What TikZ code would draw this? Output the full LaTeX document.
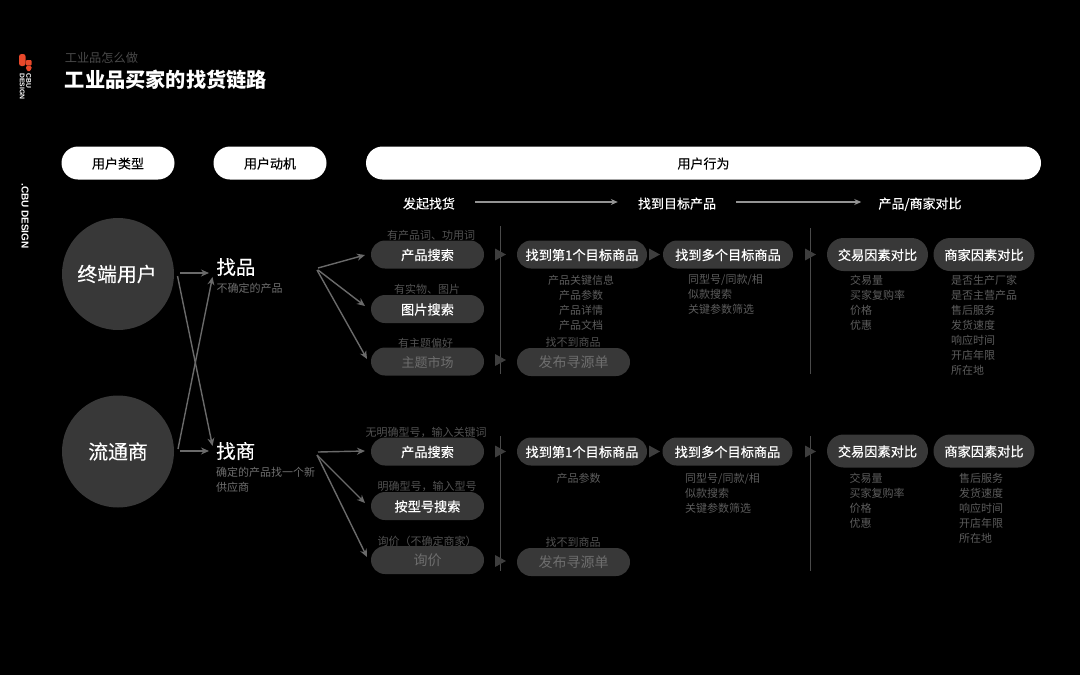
\documentclass[tikz,border=0pt]{standalone}
\usepackage{fontspec}
\setmainfont{Noto Sans CJK SC}
\newfontfamily\medf[FakeBold=0.25]{Noto Sans CJK SC}
\newfontfamily\semf[FakeBold=0.5]{Noto Sans CJK SC}
\newfontfamily\lat{Liberation Sans}
\usetikzlibrary{arrows.meta,calc}
\definecolor{pill}{HTML}{383838}
\definecolor{subt}{HTML}{5C5C5C}
\definecolor{hint}{HTML}{525252}
\definecolor{linec}{HTML}{6A6A6A}
\definecolor{tri}{HTML}{3E3E3E}
\definecolor{dim}{HTML}{6E6E6E}
\definecolor{redl}{HTML}{E8482A}
\tikzset{
 head/.style={fill=white,rounded corners=16.5pt,text=black,font=\medf\fontsize{13}{13}\selectfont,inner sep=0,minimum height=33pt,text height=11pt,text depth=0pt},
 pillb/.style={fill=pill,rounded corners=14pt,text=white,font=\semf\fontsize{13.2}{13}\selectfont,inner sep=0,minimum height=28pt,text height=11pt,text depth=0pt},
 pilld/.style={pillb,text=dim,font=\fontsize{14}{14}\selectfont},
 cmp/.style={fill=pill,rounded corners=16.5pt,text=white,font=\semf\fontsize{13.2}{13}\selectfont,inner sep=0,minimum height=33pt,minimum width=101pt,text height=11pt,text depth=0pt},
 big/.style={circle,fill=pill,text=white,minimum size=112pt,inner sep=0,font=\medf\fontsize{19.8}{20}\selectfont},
 mot/.style={text=white,inner sep=0,anchor=west,font=\medf\fontsize{19.5}{19.5}\selectfont},
 note/.style={text=dim,inner sep=0,anchor=west,font=\fontsize{11}{15}\selectfont,align=left},
 hintl/.style={text=hint,inner sep=0,font=\fontsize{11}{11}\selectfont},
 det/.style={text=subt,inner sep=0,anchor=north west,font=\fontsize{11}{15}\selectfont,align=left},
 detc/.style={det,anchor=north,align=center},
 nofind/.style={text=dim!120!white,inner sep=0,font=\fontsize{11}{11}\selectfont},
 stagel/.style={text=white,inner sep=0,font=\medf\fontsize{13}{13}\selectfont,text height=11pt,text depth=0pt},
 conn/.style={draw=linec,line width=1.4pt,-{Stealth[length=8pt,width=7pt]}},
 stagearr/.style={draw=gray!85!white,line width=1.4pt,-{Stealth[length=7pt,width=6pt]}},
 vrule/.style={draw=linec!70!black,line width=0.9pt},
}
\newcommand{\mytri}[2]{\fill[tri] (#1,#2-6) -- (#1+11,#2) -- (#1,#2+6) -- cycle;}
\begin{document}
\begin{tikzpicture}[x=1pt,y=-1pt]
\useasboundingbox (0,0) rectangle (1080,675);
\fill[black] (0,0) rectangle (1080,675);
% logo
\fill[redl,rounded corners=2.5pt] (19,54) rectangle (25.6,66);
\fill[redl,rounded corners=1pt] (25.9,60) rectangle (31.6,65.6);
\fill[redl,rounded corners=1pt] (26,66) -- (31.5,66) -- (31.5,69) -- (28.8,71.8) -- (26,69) -- cycle;
\node[text=white,rotate=-90,inner sep=0,align=left,font=\lat\bfseries\fontsize{6.8}{6.6}\selectfont] (logotxt) at (25.5,86.5) {CBU\\DESIGN};
\node[text=white,rotate=-90,inner sep=0,font=\lat\bfseries\fontsize{10}{10}\selectfont] (brand) at (25,216) {.CBU DESIGN};
% titles
\node[text=dim!125!white,anchor=west,inner sep=0,font=\fontsize{12.2}{12}\selectfont] (sub) at (64.6,58) {工业品怎么做};
\node[text=white,anchor=west,inner sep=0,font=\fontsize{20.2}{20}\selectfont\bfseries] (title) at (64.6,80) {工业品买家的找货链路};
% headers
\node[head,minimum width=113pt] (h1) at (118,163) {用户类型};
\node[head,minimum width=113pt] (h2) at (270,163) {用户动机};
\node[head,minimum width=675pt] (h3) at (703.5,163) {用户行为};
% stages
\node[stagel] (s1) at (429,203) {发起找货};
\node[stagel] (s2) at (677,203) {找到目标产品};
\node[stagel] (s3) at (920,203) {产品/商家对比};
\draw[stagearr] ($(s1.east)+(20,-1)$) -- ($(s2.west)+(-20,-1)$);
\draw[stagearr] ($(s2.east)+(20,-1)$) -- ($(s3.west)+(-17,-1)$);
% user types
\node[big] (u1) at (118,274) {\hspace*{-2pt}终端用户};
\node[big] (u2) at (118,451.5) {流通商};
% motives
\node[mot] (m1) at (216.2,267) {找品};
\node[note] (m1n) at (216.5,288) {不确定的产品};
\node[mot] (m2) at (216,451) {找商};
\node[note,anchor=north west] (m2n) at (216,467) {确定的产品找一个新\\供应商};
% connectors user -> motive
\coordinate (a1) at (180,273); \coordinate (a1e) at (209,273);
\coordinate (a2) at (180,451); \coordinate (a2e) at (209,451);
\coordinate (x1) at (177.5,276); \coordinate (x1e) at (212.5,446);
\coordinate (x2) at (178,449); \coordinate (x2e) at (212.5,277);
\draw[conn] (a1) -- (a1e);
\draw[conn] (a2) -- (a2e);
\draw[conn] (x1) -- (x1e);
\draw[conn] (x2) -- (x2e);
% hints (under pills)
\node[hintl] (t1) at (431,235) {有产品词、功用词};
\node[hintl] (t2) at (427,289) {有实物、图片};
\node[hintl] (t3) at (425.5,343) {有主题偏好};
\node[hintl] (t4) at (426,432) {无明确型号，输入关键词};
\node[hintl] (t5) at (427,486) {明确型号，输入型号};
\node[hintl] (t6) at (427,541) {询价（不确定商家）};
\node[nofind] (nf1) at (573,342) {找不到商品};
\node[nofind] (nf2) at (573,542) {找不到商品};
% search pills
\node[pillb,minimum width=113pt] (p1) at (427.5,254.5) {产品搜索};
\node[pillb,minimum width=113pt] (p2) at (427.5,309) {图片搜索};
\node[pilld,font=\fontsize{13}{13}\selectfont,minimum width=113pt] (p3) at (427.5,361.5) {主题市场};
\node[pillb,minimum width=113pt] (q1) at (427.5,451.5) {产品搜索};
\node[pillb,minimum width=113pt] (q2) at (427.5,506) {按型号搜索};
\node[pilld,minimum width=113pt] (q3) at (427.5,560) {询价};
% branching connectors
\coordinate (b1) at (318,268); \coordinate (b1e) at (365,255);
\coordinate (b2) at (318,270); \coordinate (b2e) at (365,306);
\coordinate (b3) at (317,270); \coordinate (b3e) at (367,359);
\coordinate (c1) at (318,452); \coordinate (c1e) at (365,451);
\coordinate (c2) at (317,455); \coordinate (c2e) at (365,503);
\coordinate (c3) at (317,455); \coordinate (c3e) at (367,557);
\draw[conn] (b1) -- (b1e);
\draw[conn] (b2) -- (b2e);
\draw[conn] (b3) -- (b3e);
\draw[conn] (c1) -- (c1e);
\draw[conn] (c2) -- (c2e);
\draw[conn] (c3) -- (c3e);
% vertical rules
\draw[vrule] (500.5,226) -- (500.5,374);
\draw[vrule] (810.5,228) -- (810.5,374);
\draw[vrule] (500.5,436) -- (500.5,571);
\draw[vrule] (810,436) -- (810,571);
% triangles
\mytri{495}{254.5} \mytri{649}{254.5} \mytri{805}{254.5} \mytri{495}{360}
\mytri{495}{451.5} \mytri{649}{451.5} \mytri{805}{451.5} \mytri{495}{561}
% stage pills row 1
\node[pillb,minimum width=130pt] (f1) at (582,254.5) {找到第1个目标商品};
\node[pillb,minimum width=130pt] (g1) at (728,254.5) {找到多个目标商品};
\node[pilld,minimum width=113pt] (r1) at (573.5,362) {发布寻源单};
\node[cmp] (j1) at (877.5,254.5) {交易因素对比};
\node[cmp] (k1) at (984,254.5) {商家因素对比};
% stage pills row 2
\node[pillb,minimum width=130pt] (f2) at (582,451.5) {找到第1个目标商品};
\node[pillb,minimum width=130pt] (g2) at (727.5,451.5) {找到多个目标商品};
\node[pilld,minimum width=113pt] (r2) at (573.5,562) {发布寻源单};
\node[cmp] (j2) at (877.5,451) {交易因素对比};
\node[cmp] (k2) at (984,451) {商家因素对比};
% details row 1
\node[detc] (d1) at (581,274.5) {产品关键信息\\产品参数\\产品详情\\产品文档};
\node[det] (d2) at (688,274.5) {同型号/同款/相\\似款搜索\\关键参数筛选};
\node[det] (d3) at (850,274.5) {交易量\\买家复购率\\价格\\优惠};
\node[det] (d4) at (951,274.5) {是否生产厂家\\是否主营产品\\售后服务\\发货速度\\响应时间\\开店年限\\所在地};
% details row 2
\node[detc] (e1) at (578.5,473) {产品参数};
\node[det] (e2) at (685,473) {同型号/同款/相\\似款搜索\\关键参数筛选};
\node[det] (e3) at (849.5,473) {交易量\\买家复购率\\价格\\优惠};
\node[det] (e4) at (959,473) {售后服务\\发货速度\\响应时间\\开店年限\\所在地};
\end{tikzpicture}
\end{document}
